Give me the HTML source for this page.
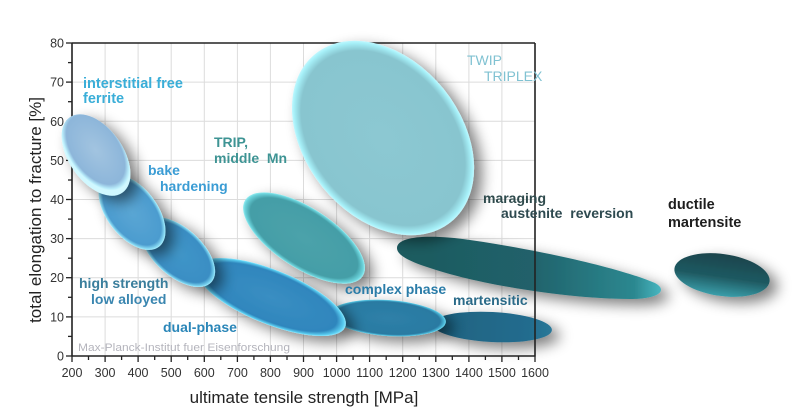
<!DOCTYPE html>
<html>
<head>
<meta charset="utf-8">
<style>
  html,body{margin:0;padding:0;background:#fff;}
  svg{display:block;}
  text{font-family:"Liberation Sans",Arial,sans-serif;}
</style>
</head>
<body>
<svg width="800" height="417" viewBox="0 0 800 417" xmlns="http://www.w3.org/2000/svg">
  <defs>
    <filter id="sh" x="-40%" y="-60%" width="180%" height="220%">
      <feGaussianBlur in="SourceAlpha" stdDeviation="7" result="b"/>
      <feOffset in="b" dx="8" dy="6" result="o"/>
      <feComponentTransfer in="o" result="s"><feFuncA type="linear" slope="0.5"/></feComponentTransfer>
      <feMerge><feMergeNode in="s"/><feMergeNode in="SourceGraphic"/></feMerge>
    </filter>
    <radialGradient id="gIF" cx="45%" cy="45%" r="50%">
      <stop offset="0" stop-color="#a2c4e0"/><stop offset="0.85" stop-color="#8db6da"/><stop offset="0.96" stop-color="#b8ecfa"/><stop offset="1" stop-color="#d0f8ff"/>
    </radialGradient>
    <radialGradient id="gBH" cx="50%" cy="50%" r="50%">
      <stop offset="0" stop-color="#5aa6d4"/><stop offset="0.87" stop-color="#4c9ccf"/><stop offset="0.97" stop-color="#8adcf4"/><stop offset="1" stop-color="#b0f0ff"/>
    </radialGradient>
    <radialGradient id="gHS" cx="50%" cy="50%" r="50%">
      <stop offset="0" stop-color="#4096c8"/><stop offset="0.87" stop-color="#3a8ec4"/><stop offset="0.97" stop-color="#7ad4f0"/><stop offset="1" stop-color="#a8ecff"/>
    </radialGradient>
    <radialGradient id="gDP" cx="50%" cy="50%" r="50%">
      <stop offset="0" stop-color="#3a8ec2"/><stop offset="0.88" stop-color="#2f86bd"/><stop offset="0.97" stop-color="#5acdf0"/><stop offset="1" stop-color="#90e8ff"/>
    </radialGradient>
    <radialGradient id="gTR" cx="50%" cy="50%" r="50%">
      <stop offset="0" stop-color="#4ca2aa"/><stop offset="0.88" stop-color="#449ea7"/><stop offset="0.97" stop-color="#6cd4dc"/><stop offset="1" stop-color="#98eef2"/>
    </radialGradient>
    <radialGradient id="gTW" cx="50%" cy="50%" r="50%">
      <stop offset="0" stop-color="#8cc8d2"/><stop offset="0.9" stop-color="#88c5cf"/><stop offset="0.975" stop-color="#a6f0f8"/><stop offset="1" stop-color="#c0f8ff"/>
    </radialGradient>
    <radialGradient id="gCP" cx="50%" cy="50%" r="50%">
      <stop offset="0" stop-color="#2e80a8"/><stop offset="0.9" stop-color="#2a7aa2"/><stop offset="0.97" stop-color="#4ab8d8"/><stop offset="1" stop-color="#70d8f0"/>
    </radialGradient>
    <linearGradient id="gMA" x1="0" y1="0" x2="1" y2="0">
      <stop offset="0" stop-color="#1e6280"/><stop offset="0.8" stop-color="#236c8e"/><stop offset="1" stop-color="#2a7898"/>
    </linearGradient>
    <linearGradient id="gMR" x1="0" y1="0" x2="1" y2="0">
      <stop offset="0" stop-color="#1e5a5e"/><stop offset="0.5" stop-color="#20616a"/><stop offset="0.9" stop-color="#2c8890"/><stop offset="1" stop-color="#48b6c0"/>
    </linearGradient>
    <linearGradient id="gDM" x1="0" y1="0" x2="0" y2="1">
      <stop offset="0" stop-color="#1a444c"/><stop offset="0.55" stop-color="#1f5a62"/><stop offset="1" stop-color="#3a9eaa"/>
    </linearGradient>
  </defs>

  <rect width="800" height="417" fill="#ffffff"/>

  <!-- grid -->
  <g stroke="#dcdcdc" stroke-width="1">
    <line x1="105.1" y1="43" x2="105.1" y2="356"/>
    <line x1="138.1" y1="43" x2="138.1" y2="356"/>
    <line x1="171.2" y1="43" x2="171.2" y2="356"/>
    <line x1="204.3" y1="43" x2="204.3" y2="356"/>
    <line x1="237.4" y1="43" x2="237.4" y2="356"/>
    <line x1="270.4" y1="43" x2="270.4" y2="356"/>
    <line x1="303.5" y1="43" x2="303.5" y2="356"/>
    <line x1="336.6" y1="43" x2="336.6" y2="356"/>
    <line x1="369.6" y1="43" x2="369.6" y2="356"/>
    <line x1="402.7" y1="43" x2="402.7" y2="356"/>
    <line x1="435.8" y1="43" x2="435.8" y2="356"/>
    <line x1="468.9" y1="43" x2="468.9" y2="356"/>
    <line x1="501.9" y1="43" x2="501.9" y2="356"/>
    <line x1="72" y1="316.9" x2="535" y2="316.9"/>
    <line x1="72" y1="277.7" x2="535" y2="277.7"/>
    <line x1="72" y1="238.6" x2="535" y2="238.6"/>
    <line x1="72" y1="199.5" x2="535" y2="199.5"/>
    <line x1="72" y1="160.4" x2="535" y2="160.4"/>
    <line x1="72" y1="121.3" x2="535" y2="121.3"/>
    <line x1="72" y1="82.1" x2="535" y2="82.1"/>
  </g>

  <!-- axes (left, bottom, top) -->
  <g stroke="#222" stroke-width="1.6" fill="none">
    <line x1="72" y1="42.5" x2="72" y2="356.5"/>
    <line x1="71.5" y1="356" x2="535.5" y2="356"/>
    <line x1="72" y1="43" x2="535" y2="43"/>
  </g>
  <!-- ticks -->
  <g stroke="#222" stroke-width="1.3">
    <line x1="72" y1="356" x2="72" y2="362"/>
    <line x1="88.5" y1="356" x2="88.5" y2="360"/>
    <line x1="105.1" y1="356" x2="105.1" y2="362"/>
    <line x1="121.6" y1="356" x2="121.6" y2="360"/>
    <line x1="138.1" y1="356" x2="138.1" y2="362"/>
    <line x1="154.7" y1="356" x2="154.7" y2="360"/>
    <line x1="171.2" y1="356" x2="171.2" y2="362"/>
    <line x1="187.7" y1="356" x2="187.7" y2="360"/>
    <line x1="204.3" y1="356" x2="204.3" y2="362"/>
    <line x1="220.8" y1="356" x2="220.8" y2="360"/>
    <line x1="237.4" y1="356" x2="237.4" y2="362"/>
    <line x1="253.9" y1="356" x2="253.9" y2="360"/>
    <line x1="270.4" y1="356" x2="270.4" y2="362"/>
    <line x1="287.0" y1="356" x2="287.0" y2="360"/>
    <line x1="303.5" y1="356" x2="303.5" y2="362"/>
    <line x1="320.0" y1="356" x2="320.0" y2="360"/>
    <line x1="336.6" y1="356" x2="336.6" y2="362"/>
    <line x1="353.1" y1="356" x2="353.1" y2="360"/>
    <line x1="369.6" y1="356" x2="369.6" y2="362"/>
    <line x1="386.2" y1="356" x2="386.2" y2="360"/>
    <line x1="402.7" y1="356" x2="402.7" y2="362"/>
    <line x1="419.3" y1="356" x2="419.3" y2="360"/>
    <line x1="435.8" y1="356" x2="435.8" y2="362"/>
    <line x1="452.3" y1="356" x2="452.3" y2="360"/>
    <line x1="468.9" y1="356" x2="468.9" y2="362"/>
    <line x1="485.4" y1="356" x2="485.4" y2="360"/>
    <line x1="501.9" y1="356" x2="501.9" y2="362"/>
    <line x1="518.5" y1="356" x2="518.5" y2="360"/>
    <line x1="535" y1="356" x2="535" y2="362"/>

    <line x1="66" y1="356" x2="72" y2="356"/>
    <line x1="68" y1="336.4" x2="72" y2="336.4"/>
    <line x1="66" y1="316.9" x2="72" y2="316.9"/>
    <line x1="68" y1="297.3" x2="72" y2="297.3"/>
    <line x1="66" y1="277.7" x2="72" y2="277.7"/>
    <line x1="68" y1="258.2" x2="72" y2="258.2"/>
    <line x1="66" y1="238.6" x2="72" y2="238.6"/>
    <line x1="68" y1="219.1" x2="72" y2="219.1"/>
    <line x1="66" y1="199.5" x2="72" y2="199.5"/>
    <line x1="68" y1="180.0" x2="72" y2="180.0"/>
    <line x1="66" y1="160.4" x2="72" y2="160.4"/>
    <line x1="68" y1="140.8" x2="72" y2="140.8"/>
    <line x1="66" y1="121.3" x2="72" y2="121.3"/>
    <line x1="68" y1="101.7" x2="72" y2="101.7"/>
    <line x1="66" y1="82.1" x2="72" y2="82.1"/>
    <line x1="68" y1="62.6" x2="72" y2="62.6"/>
    <line x1="66" y1="43" x2="72" y2="43"/>
  </g>

  <!-- ellipses -->
  <g filter="url(#sh)">
    <path d="M397,248 C397,236 430,234 470,240 C540,250 620,268 655,283 C668,290 660,299 630,299 C570,299 480,285 430,268 C405,260 397,254 397,248 Z" fill="url(#gMR)"/>
  </g>
  <g filter="url(#sh)">
    <ellipse cx="722" cy="275" rx="48" ry="21" transform="rotate(8 722 275)" fill="url(#gDM)"/>
  </g>
  <g filter="url(#sh)">
    <ellipse cx="304" cy="238" rx="70" ry="30" transform="rotate(33 304 238)" fill="url(#gTR)"/>
  </g>
  <g filter="url(#sh)">
    <ellipse cx="383" cy="138" rx="108" ry="78" transform="rotate(51 383 138)" fill="url(#gTW)"/>
  </g>
  <g filter="url(#sh)">
    <ellipse cx="492" cy="327" rx="60" ry="15" transform="rotate(3 492 327)" fill="url(#gMA)"/>
  </g>
  <g filter="url(#sh)">
    <ellipse cx="388" cy="318" rx="58" ry="18" transform="rotate(4 388 318)" fill="url(#gCP)"/>
  </g>
  <g filter="url(#sh)">
    <ellipse cx="271" cy="297" rx="80" ry="27" transform="rotate(22 271 297)" fill="url(#gDP)"/>
  </g>
  <g filter="url(#sh)">
    <ellipse cx="178" cy="252" rx="45" ry="24" transform="rotate(42 178 252)" fill="url(#gHS)"/>
  </g>
  <g filter="url(#sh)">
    <ellipse cx="132" cy="212" rx="44" ry="25" transform="rotate(52 132 212)" fill="url(#gBH)"/>
  </g>
  <g filter="url(#sh)">
    <ellipse cx="96" cy="155" rx="46" ry="27" transform="rotate(55 96 155)" fill="url(#gIF)"/>
  </g>

  <!-- right spine on top -->
  <line x1="535" y1="43" x2="535" y2="356.5" stroke="#222" stroke-width="1.6"/>

  <!-- tick labels -->
  <g font-size="12.5" fill="#333" text-anchor="end">
    <text x="64" y="360.5">0</text>
    <text x="64" y="321.4">10</text>
    <text x="64" y="282.2">20</text>
    <text x="64" y="243.1">30</text>
    <text x="64" y="204">40</text>
    <text x="64" y="164.9">50</text>
    <text x="64" y="125.8">60</text>
    <text x="64" y="86.6">70</text>
    <text x="64" y="47.5">80</text>
  </g>
  <g font-size="12.5" fill="#333" text-anchor="middle">
    <text x="72" y="377">200</text>
    <text x="105.1" y="377">300</text>
    <text x="138.1" y="377">400</text>
    <text x="171.2" y="377">500</text>
    <text x="204.3" y="377">600</text>
    <text x="237.4" y="377">700</text>
    <text x="270.4" y="377">800</text>
    <text x="303.5" y="377">900</text>
    <text x="336.6" y="377">1000</text>
    <text x="369.6" y="377">1100</text>
    <text x="402.7" y="377">1200</text>
    <text x="435.8" y="377">1300</text>
    <text x="468.9" y="377">1400</text>
    <text x="501.9" y="377">1500</text>
    <text x="535" y="377">1600</text>
  </g>

  <!-- axis titles -->
  <text x="304" y="403" font-size="17" fill="#222" text-anchor="middle">ultimate tensile strength [MPa]</text>
  <text transform="translate(41 210) rotate(-90)" font-size="17" fill="#222" text-anchor="middle">total elongation to fracture [%]</text>

  <!-- watermark -->
  <text x="78" y="351" font-size="11" fill="#b4b4bc" textLength="212" lengthAdjust="spacingAndGlyphs">Max-Planck-Institut fuer Eisenforschung</text>

  <!-- labels -->
  <g font-size="14" font-weight="bold">
    <text x="83" y="88" fill="#3aaed8" font-size="14.5">interstitial free</text>
    <text x="83" y="103" fill="#3aaed8" font-size="14.5">ferrite</text>

    <text x="214" y="147" fill="#3e9494">TRIP,</text>
    <text x="214" y="163" fill="#3e9494" xml:space="preserve">middle  Mn</text>

    <text x="148" y="175" fill="#3a9cd4">bake</text>
    <text x="160" y="191" fill="#3a9cd4">hardening</text>

    <text x="79" y="288" fill="#3a7e9c">high strength</text>
    <text x="91" y="304" fill="#3a86b0">low alloyed</text>

    <text x="163" y="332" fill="#2a86b8">dual-phase</text>

    <text x="345" y="294" fill="#2a7ca8">complex phase</text>
    <text x="453" y="305" fill="#2a6a88">martensitic</text>

    <text x="483" y="203" fill="#2e4a4c">maraging</text>
    <text x="501" y="218" fill="#2e4a50" xml:space="preserve">austenite  reversion</text>

    <text x="668" y="209" fill="#1e1e1e" font-size="14.5">ductile</text>
    <text x="668" y="227" fill="#1e1e1e" font-size="14.5">martensite</text>
  </g>
  <g font-size="14" fill="#80c2d2">
    <text x="467" y="65">TWIP</text>
    <text x="484" y="81">TRIPLEX</text>
  </g>
</svg>
</body>
</html>
